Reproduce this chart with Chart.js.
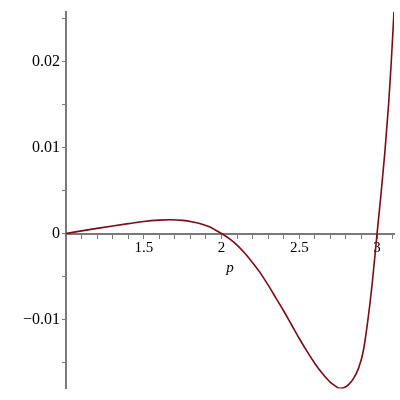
<!DOCTYPE html>
<html>
<head>
<meta charset="utf-8">
<script src="https://cdn.jsdelivr.net/npm/chart.js@4/dist/chart.umd.min.js"></script>
<style>
  html, body { margin: 0; padding: 0; background: #ffffff; }
  #wrap { width: 400px; height: 400px; }
</style>
</head>
<body>
<div id="wrap"><canvas id="c" width="400" height="400"></canvas></div>
<script>
// Values
const pValues = [1.00, 1.10, 1.20, 1.30, 1.40, 1.50, 1.60, 1.667, 1.75, 1.816, 1.87, 1.923, 1.96, 2.00,
                 2.05, 2.10, 2.15, 2.20, 2.25, 2.30, 2.35, 2.40, 2.45, 2.50, 2.55, 2.60, 2.65, 2.70,
                 2.73, 2.76, 2.79, 2.82, 2.85, 2.88, 2.91, 2.94, 2.97, 3.00, 3.025, 3.05, 3.075, 3.09, 3.109];
const fValues = [0, 0.00031, 0.00060, 0.00088, 0.00115, 0.00141, 0.00156, 0.00160, 0.00153, 0.00134,
                 0.00112, 0.00078, 0.00042, 0,
                 -0.00060, -0.00135, -0.0023, -0.0034, -0.0046, -0.0060, -0.0075, -0.0090, -0.0106,
                 -0.0122, -0.0137, -0.0151, -0.0163, -0.0173,
                 -0.0177, -0.0180, -0.0179, -0.0175, -0.0168, -0.0157, -0.0138, -0.0102, -0.0056,
                 0, 0.0045, 0.0094, 0.0152, 0.0195, 0.0258];
const xTickLabels = ['1.5', '2', '2.5', '3'];
const yTickLabels = ['\u22120.01', '0', '0.01', '0.02'];
const xLabeledValues = [1.5, 2, 2.5, 3];
const yLabeledValues = [-0.01, 0, 0.01, 0.02];
const axisTitle = 'p';

const points = pValues.map((p, i) => ({ x: p, y: fValues[i] }));
const axisColor = '#7a7a7a';
const curveColor = '#7d0a12';
const serif = "'Liberation Serif', 'Times New Roman', serif";
const tickFont = { family: serif, size: 15 };

function labelFor(v, vals, labels) {
  for (let i = 0; i < vals.length; i++) {
    if (Math.abs(v - vals[i]) < 1e-7) return labels[i];
  }
  return '';
}

new Chart(document.getElementById('c'), {
  type: 'line',
  data: {
    datasets: [{
      data: points,
      borderColor: curveColor,
      borderWidth: 1.6,
      pointRadius: 0,
      fill: false,
      cubicInterpolationMode: 'monotone'
    }]
  },
  options: {
    responsive: false,
    animation: false,
    events: [],
    layout: { padding: { left: 0, right: 6, top: 8, bottom: 9 } },
    plugins: { legend: { display: false }, tooltip: { enabled: false } },
    scales: {
      x: {
        type: 'linear',
        position: { y: 0 },
        min: 1,
        max: 3.109,
        border: { display: true, color: axisColor, width: 2 },
        grid: { display: true, drawOnChartArea: false, drawTicks: true, tickLength: 4, tickColor: axisColor, tickWidth: 1 },
        ticks: {
          stepSize: 0.1,
          includeBounds: false,
          autoSkip: false,
          maxRotation: 0,
          padding: 2,
          color: '#000000',
          font: tickFont,
          callback: (v) => labelFor(v, xLabeledValues, xTickLabels)
        },
        title: {
          display: true,
          text: axisTitle,
          color: '#000000',
          padding: { top: 0, bottom: 0 },
          font: { family: serif, size: 15, style: 'italic' }
        }
      },
      y: {
        type: 'linear',
        position: 'left',
        min: -0.0180,
        max: 0.0258,
        afterFit: (s) => { s.width = 66; },
        border: { display: true, color: axisColor, width: 2 },
        grid: { display: true, drawOnChartArea: false, drawTicks: true, tickLength: 4, tickColor: axisColor, tickWidth: 1 },
        ticks: {
          stepSize: 0.005,
          includeBounds: false,
          autoSkip: false,
          padding: 2,
          color: '#000000',
          font: { family: serif, size: 16 },
          callback: (v) => labelFor(v, yLabeledValues, yTickLabels)
        }
      }
    }
  }
});
</script>
</body>
</html>
